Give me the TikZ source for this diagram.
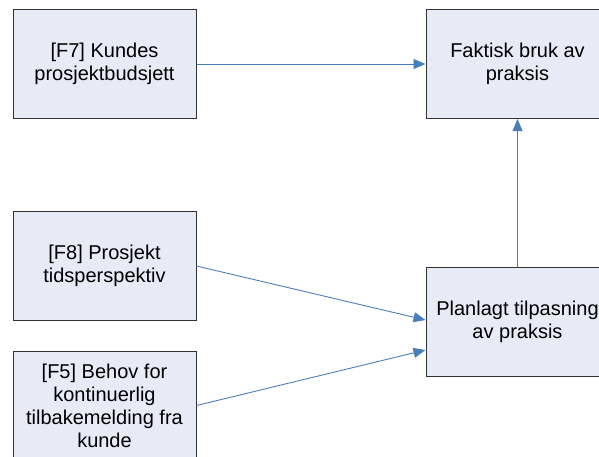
\documentclass[tikz,border=0pt]{standalone}
\usepackage{fontspec}
\setmainfont{Liberation Sans}
\usetikzlibrary{arrows.meta}
\definecolor{boxfill}{RGB}{230,235,246}
\definecolor{boxline}{RGB}{50,50,50}
\definecolor{arrowblue}{RGB}{74,126,187}
\begin{document}
\begin{tikzpicture}[x=1pt,y=-1pt,
  factor/.style={draw=boxline, line width=1pt, fill=boxfill, minimum width=183pt, minimum height=109pt,
    inner sep=0pt, align=center, font=\fontsize{20}{23}\selectfont},
  arr/.style={draw=arrowblue, line width=0.9pt, -{Triangle[length=12pt,width=10pt]}}]
\useasboundingbox (0,0) rectangle (599,456);
\clip (0,0) rectangle (599,456);
\node[factor] (f7) at (104.5,64) {[F7] Kundes\\prosjektbudsjett};
\node[factor] (fak) at (517.5,64) {Faktisk bruk av\\praksis};
\node[factor] (f8) at (104.5,266) {[F8] Prosjekt\\tidsperspektiv};
\node[factor] (f5) at (104.5,405.5) {[F5] Behov for\\kontinuerlig\\tilbakemelding fra\\kunde};
\node[factor] (pl) at (517.5,321.5) {Planlagt tilpasning\\av praksis};
\draw[arr] (f7.east) -- (fak.west);
\draw[arr] (f8.east) -- ([yshift=1.5pt]pl.west);
\draw[arr] (f5.east) -- ([yshift=-28.5pt]pl.west);
\draw[arr] (pl.north) -- (fak.south);
\end{tikzpicture}
\end{document}
